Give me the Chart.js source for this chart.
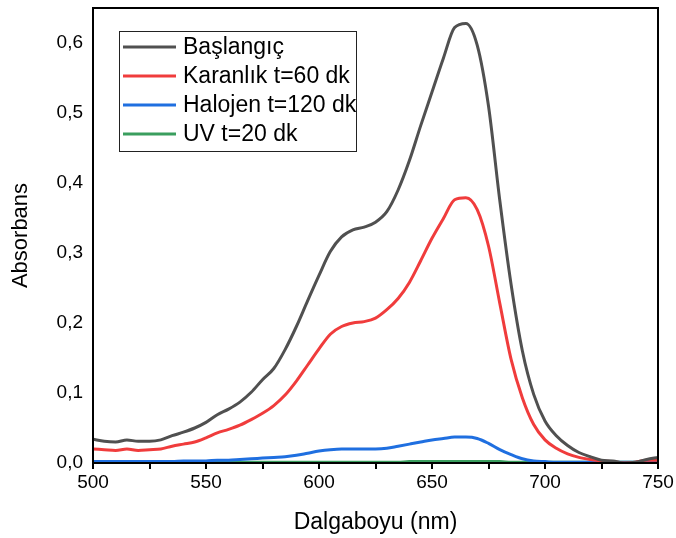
<!DOCTYPE html>
<html>
<head>
<meta charset="utf-8">
<script src="https://cdn.jsdelivr.net/npm/chart.js@4.4.1/dist/chart.umd.min.js"></script>
<style>
  body { margin: 0; background: #fff; }
  canvas { display: block; }
</style>
</head>
<body>
<canvas id="absChart" width="676" height="538"></canvas>
<script>
// wavelength (nm) and absorbance values
const wavelengths = [500,505,510,515,520,525,530,535,540,545,550,555,560,565,570,575,580,585,590,595,
  600,605,610,615,620,625,630,635,640,645,650,655,660,665,670,675,680,685,690,695,
  700,705,710,715,720,725,730,735,740,745,750];

const baslangic = [0.034,0.031,0.030,0.033,0.031,0.031,0.033,0.039,0.044,0.050,0.058,0.069,0.077,0.087,0.101,0.119,0.135,0.162,0.195,0.232,
  0.268,0.302,0.323,0.333,0.337,0.344,0.359,0.390,0.432,0.482,0.530,0.578,0.622,0.628,0.597,0.510,0.375,0.255,0.160,0.098,
  0.060,0.039,0.025,0.015,0.009,0.004,0.003,0.000,0.001,0.005,0.008];

const karanlik = [0.020,0.019,0.018,0.020,0.018,0.019,0.020,0.024,0.027,0.030,0.036,0.043,0.048,0.054,0.062,0.071,0.082,0.097,0.117,0.140,
  0.163,0.184,0.195,0.200,0.202,0.207,0.219,0.235,0.258,0.289,0.321,0.349,0.376,0.379,0.362,0.310,0.228,0.148,0.093,0.055,
  0.033,0.021,0.013,0.008,0.005,0.003,0.002,0.000,0.001,0.004,0.004];

const halojen = [0.002,0.002,0.002,0.002,0.002,0.002,0.002,0.002,0.003,0.003,0.003,0.004,0.004,0.005,0.006,0.007,0.008,0.009,0.011,0.014,
  0.017,0.019,0.020,0.020,0.020,0.020,0.021,0.024,0.027,0.030,0.033,0.035,0.037,0.037,0.035,0.028,0.019,0.012,0.006,0.003,
  0.002,0.001,0.001,0.001,0.001,0.001,0.001,0.001,0.001,0.001,0.001];

const uv = [0.001,0.001,0.001,0.001,0.001,0.001,0.001,0.001,0.001,0.001,0.001,0.001,0.001,0.001,0.001,0.001,0.001,0.001,0.001,0.001,
  0.001,0.001,0.001,0.001,0.001,0.001,0.001,0.001,0.002,0.002,0.002,0.002,0.002,0.002,0.002,0.002,0.002,0.001,0.001,0.001,
  0.001,0.001,0.001,0.001,0.001,0.001,0.001,0.001,0.001,0.001,0.001];

const seriesLabels = ['Başlangıç', 'Karanlık t=60 dk', 'Halojen t=120 dk', 'UV t=20 dk'];
const seriesColors = ['#505050', '#f03c3c', '#1f6fe0', '#3a9e5e'];

const xTicks = [500,525,550,575,600,625,650,675,700,725,750];
const yTicks = [0,0.1,0.2,0.3,0.4,0.5,0.6];

const FONT = '"Liberation Sans", Arial, sans-serif';

function toPoints(values) {
  return wavelengths.map((w, i) => ({ x: w, y: values[i] }));
}

const allSeries = [baslangic, karanlik, halojen, uv];
const datasets = allSeries.map((vals, i) => ({
  label: seriesLabels[i],
  data: toPoints(vals),
  borderColor: seriesColors[i],
  borderWidth: 3,
  pointRadius: 0,
  fill: false,
  cubicInterpolationMode: 'monotone'
}));

// frame around the plot + legend box inside it
const framePlugin = {
  id: 'frame',
  afterDraw(chart) {
    const { ctx, chartArea: a } = chart;
    ctx.save();
    ctx.strokeStyle = '#000';
    ctx.lineWidth = 2;
    ctx.strokeRect(a.left, a.top, a.right - a.left, a.bottom - a.top);

    // legend
    const bx = 119, by = 31, bw = 237, bh = 120;
    ctx.lineWidth = 1;
    ctx.strokeStyle = '#222';
    ctx.fillStyle = '#fff';
    ctx.fillRect(bx, by, bw, bh);
    ctx.strokeRect(bx + 0.5, by + 0.5, bw, bh);
    ctx.font = '23px ' + FONT;
    ctx.textBaseline = 'middle';
    chart.data.datasets.forEach((ds, i) => {
      const y = 47 + i * 29;
      ctx.strokeStyle = ds.borderColor;
      ctx.lineWidth = 3;
      ctx.beginPath();
      ctx.moveTo(123, y);
      ctx.lineTo(176, y);
      ctx.stroke();
      ctx.fillStyle = '#000';
      ctx.fillText(ds.label, 183, y + 1);
    });
    ctx.restore();
  }
};

const chart = new Chart(document.getElementById('absChart'), {
  type: 'line',
  data: { datasets: datasets },
  options: {
    responsive: false,
    animation: false,
    layout: { padding: { left: 0, right: 18, top: 8, bottom: 0 } },
    plugins: {
      legend: { display: false },
      tooltip: { enabled: false }
    },
    scales: {
      x: {
        type: 'linear',
        min: 500,
        max: 750,
        afterFit: (s) => { s.height = 75; s.paddingLeft = 0; s.paddingRight = 0; },
        afterBuildTicks: (s) => { s.ticks = xTicks.map(v => ({ value: v })); },
        border: { color: '#000', width: 2 },
        grid: { drawOnChartArea: false, color: '#000', tickLength: 6, lineWidth: 2 },
        ticks: {
          color: '#000',
          font: { family: FONT, size: 19 },
          padding: 2,
          maxRotation: 0,
          callback: (v) => (v % 50 === 0 ? String(v) : '')
        },
        title: {
          display: true,
          text: 'Dalgaboyu (nm)',
          color: '#000',
          font: { family: FONT, size: 23 },
          padding: { top: 4, bottom: 2 }
        }
      },
      y: {
        min: 0,
        max: 0.65,
        afterFit: (s) => { s.width = 93; s.paddingTop = 0; s.paddingBottom = 0; },
        afterBuildTicks: (s) => { s.ticks = yTicks.map(v => ({ value: v })); },
        border: { color: '#000', width: 2 },
        grid: { display: false, drawTicks: false },
        ticks: {
          color: '#000',
          font: { family: FONT, size: 19 },
          padding: 10,
          callback: (v) => v.toFixed(1).replace('.', ',')
        },
        title: {
          display: true,
          text: 'Absorbans',
          color: '#000',
          font: { family: FONT, size: 22 },
          padding: { top: 8, bottom: 4 }
        }
      }
    }
  },
  plugins: [framePlugin]
});
</script>
</body>
</html>
